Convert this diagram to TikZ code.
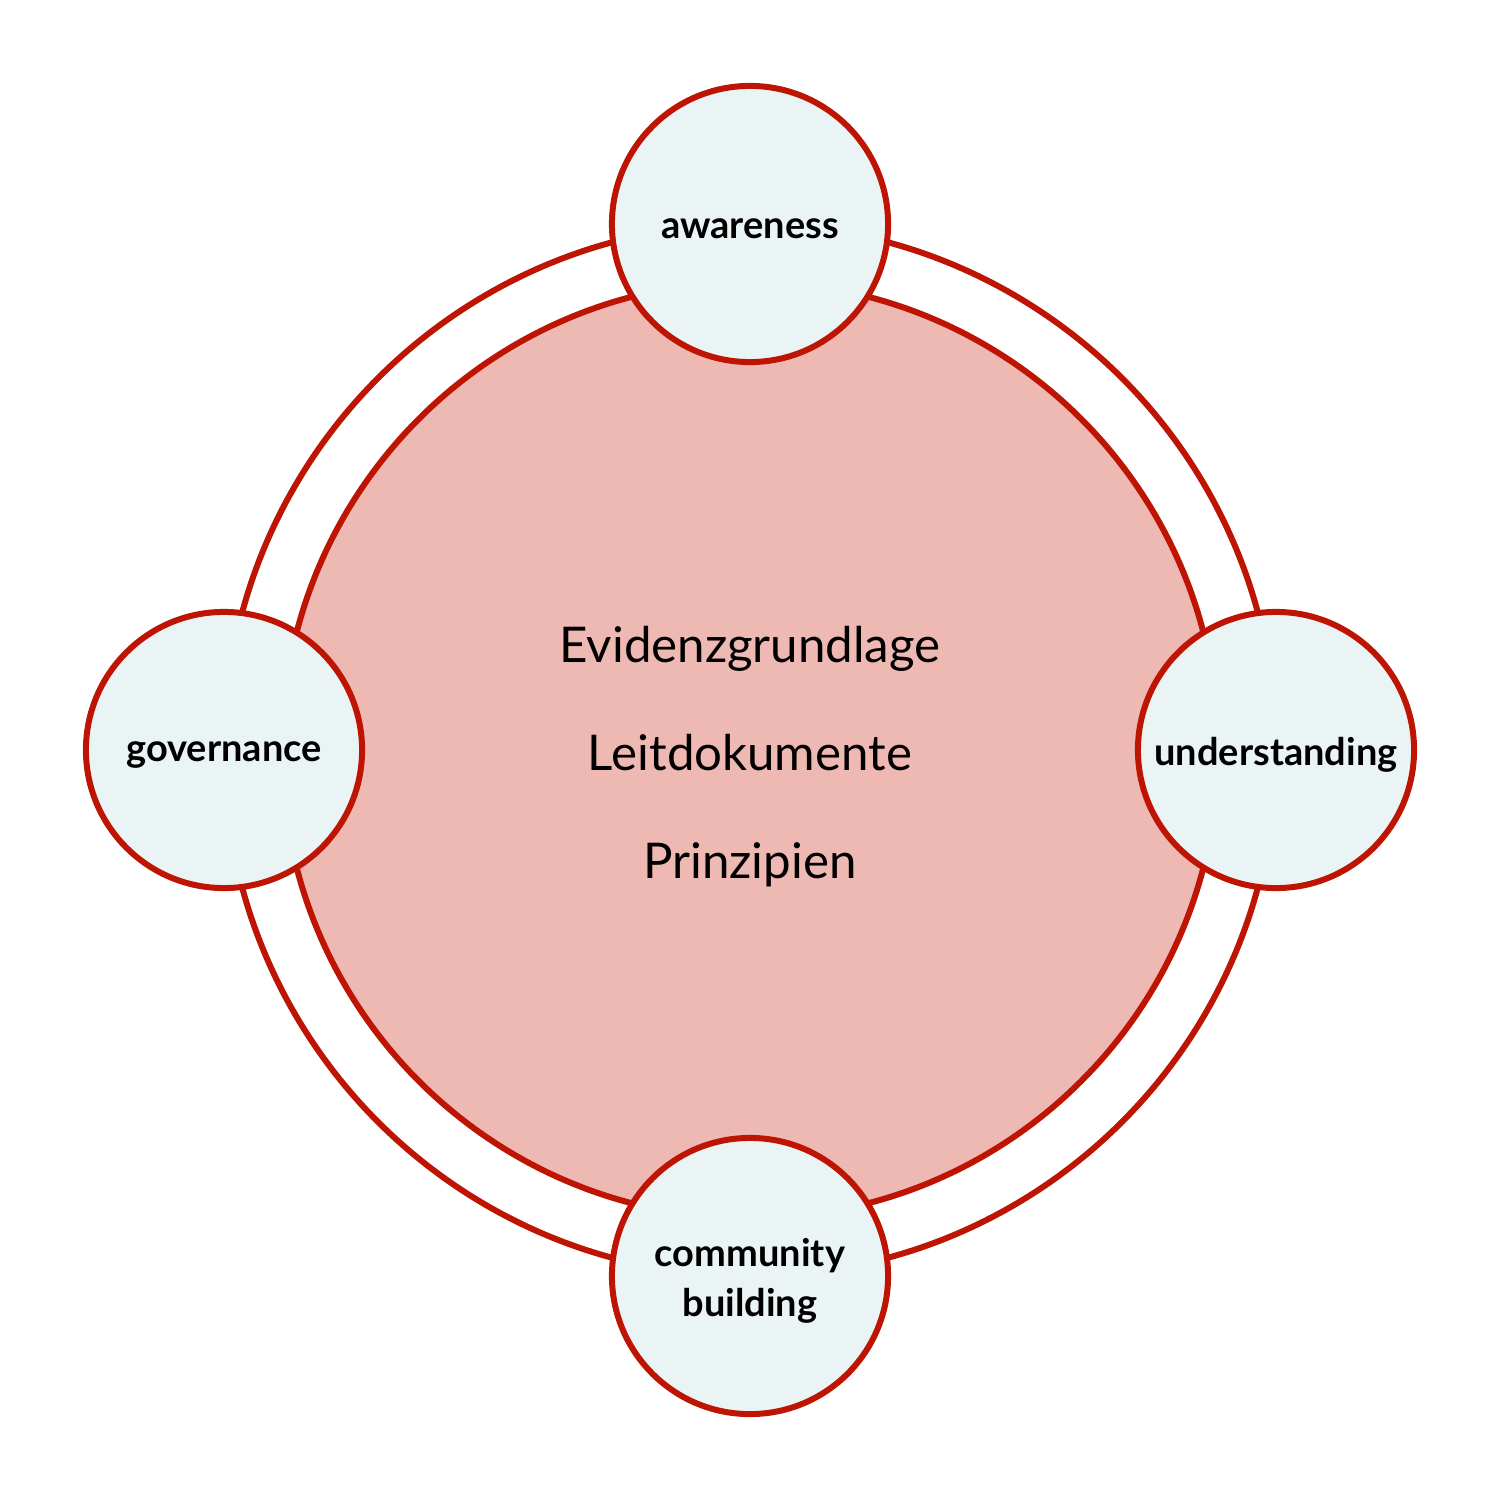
\documentclass[tikz,border=0pt]{standalone}
\usepackage{fontspec}
\setmainfont{Lato}
\definecolor{ringred}{RGB}{190,20,4}
\definecolor{corefill}{RGB}{239,185,179}
\definecolor{nodefill}{RGB}{234,244,244}
\begin{document}
\begin{tikzpicture}[x=0.01cm,y=-0.01cm,
  ringline/.style={draw=ringred,line width=0.06cm},
  topic/.style={circle,ringline,fill=nodefill,minimum size=2.76cm,inner sep=0pt},
  topictext/.style={font=\fontsize{10.8}{14.2}\selectfont\bfseries,align=center,inner sep=0pt},
  coretext/.style={font=\fontsize{14}{30.7}\selectfont,align=center}]
\useasboundingbox (0,0) rectangle (1500,1500);
\coordinate (c) at (750,750);
\draw[ringline] (c) circle[radius=526];
\node[circle,ringline,fill=corefill,minimum size=9.36cm,inner sep=0pt] (core) at (c) {};
\node[coretext] (txt) at (750,757) {Evidenzgrundlage\\Leitdokumente\\Prinzipien};
\node[topic] (aw) at (750,224) {};
\node[topic] (un) at (1276,750) {};
\node[topic] (co) at (750,1276) {};
\node[topic] (go) at (224,750) {};
\node[topictext] (awt) at ([yshift=-0.05cm]aw.center) {awareness};
\node[topictext] (unt) at ([yshift=-0.05cm]un.center) {understanding};
\node[topictext] (cot) at ([yshift=-0.05cm]co.center) {community\\building};
\node[topictext] (got) at ([yshift=-0.05cm]go.center) {governance};
\end{tikzpicture}
\end{document}
